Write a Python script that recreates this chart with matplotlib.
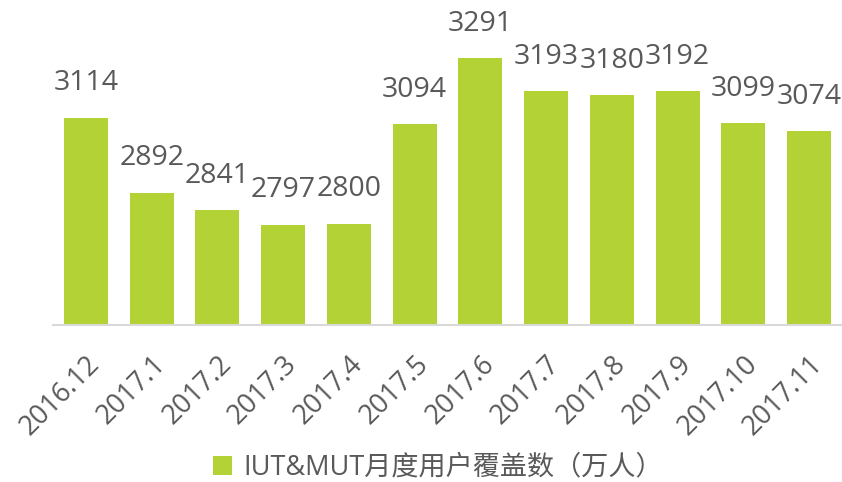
import matplotlib.pyplot as plt

plt.rcParams['font.family'] = ['Open Sans', 'Noto Sans CJK SC', 'DejaVu Sans']

months = ['2016.12', '2017.1', '2017.2', '2017.3', '2017.4', '2017.5',
          '2017.6', '2017.7', '2017.8', '2017.9', '2017.10', '2017.11']
users = [3114, 2892, 2841, 2797, 2800, 3094, 3291, 3193, 3180, 3192, 3099, 3074]

bar_color = '#b3d235'
text_color = '#595959'

fig = plt.figure(figsize=(8.42, 4.82), dpi=100)
ax = fig.add_axes([0.063, 0.326, 0.937, 0.63])

x = range(len(months))
bars = ax.bar(x, users, width=0.67, color=bar_color,
              label='IUT&MUT月度用户覆盖数（万人）')
for xi, v in zip(x, users):
    ax.text(xi, v + 60, str(v), ha='center', va='bottom',
            fontsize=20.5, color=text_color)

ax.set_ylim(2500, 3400)
ax.set_xlim(-0.5, len(months) - 0.5)
ax.set_yticks([])
for s in ['top', 'right', 'left']:
    ax.spines[s].set_visible(False)
ax.spines['bottom'].set_color('#d9d9d9')
ax.spines['bottom'].set_linewidth(1.5)

ax.set_xticks(list(x))
ax.set_xticklabels(months, rotation=45, ha='right', rotation_mode='anchor',
                   fontsize=19.5, color=text_color)
ax.tick_params(axis='x', length=0, pad=18)

fig.legend(loc='lower center', bbox_to_anchor=(0.52, -0.05), frameon=False,
           fontsize=19.5, labelcolor=text_color, handlelength=0.7,
           handleheight=0.7, handletextpad=0.4)

fig.savefig('out.png', dpi=100)
